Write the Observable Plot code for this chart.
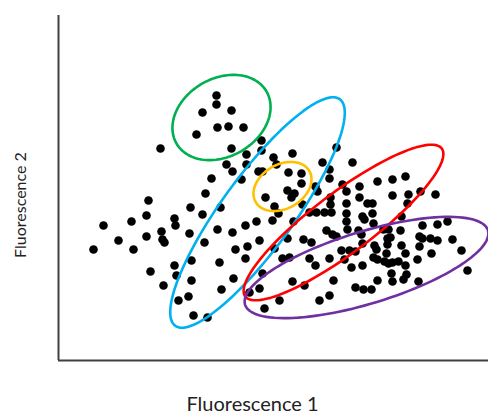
<!DOCTYPE html>
<html>
<head>
<meta charset="utf-8">
<script src="https://cdn.jsdelivr.net/npm/d3@7"></script>
<script src="https://cdn.jsdelivr.net/npm/@observablehq/plot@0.6"></script>
<style>
  html, body { margin: 0; padding: 0; background: #fff; }
  svg { display: block; }
</style>
</head>
<body>
<div id="chart"></div>
<script>
// Fluorescence readings (arbitrary units)
const fluor1 = [35,45,60,73,75,88,88,90,92,102,103,104,106,105,116,117,116,118,120,130,131,132,133,133,135,138,
  144,144,146,147,149,153,158,158,159,159,161,162,163,168,170,173,173,174,174,175,183,185,187,177,189,187,188,188,191,198,200,204,201,201,203,203,204,206,207,
  215,218,216,220,214,216,230,243,243,229,236,233,234,264,278,294,257,259,271,271,284,288,301,301,309,314,244,251,258,266,272,272,273,288,288,304,306,
  235,245,253,229,224,231,251,257,268,274,278,289,288,300,303,304,283,291,297,271,286,293,304,314,
  319,334,347,334,350,362,377,349,343,315,325,330,342,364,379,389,361,364,372,379,394,403,409,329,332,329,316,318,343,315,319,328,347,361,373,359,
  326,330,334,340,347,333,348,345,334,360,319,297,305,313,275,271,261,246,234,221];
const fluor2 = [111,135,120,139,111,145,124,160,89,212,129,121,118,75,142,135,95,85,60,64,127,153,100,80,45,226,
  248,146,118,167,43,182,265,256,233,131,98,153,71,196,234,250,212,189,128,82,181,233,135,111,114,102,206,196,68,139,189,189,120,72,220,210,87,52,163,
  203,196,154,147,140,112,188,187,177,170,167,163,207,198,213,198,174,169,191,182,176,169,174,163,157,157,156,148,148,148,163,156,148,157,147,144,141,
  139,121,118,122,102,103,102,95,130,126,124,131,139,130,126,117,110,110,109,102,101,93,95,147,
  179,181,184,165,166,169,166,157,144,137,131,131,130,135,136,139,124,122,122,120,121,110,90,122,123,116,115,111,115,103,101,107,107,114,107,101,
  99,97,98,99,95,87,86,81,79,79,80,73,71,71,80,65,60,75,79,60];

// Gating ellipses: centre, semi-axes, tilt (degrees)
const gateColors = ["#00b050", "#00b0f0", "#ffc000", "#ff0000", "#7030a0"];
const gateCx = [163, 199, 224, 285, 308];
const gateCy = [243, 148, 174, 138, 93];
const gateA = [52, 140, 31, 123, 127];
const gateB = [39, 36, 22, 30, 36];
const gateTilt = [30, 54, 30, 37, 17];

const cells = fluor1.map((x, i) => ({x, y: fluor2[i]}));

const gateMarks = gateColors.map((color, g) => {
  const th = gateTilt[g] * Math.PI / 180;
  const pts = d3.range(0, 360, 3).map(deg => {
    const t = deg * Math.PI / 180;
    const u = gateA[g] * Math.cos(t), v = gateB[g] * Math.sin(t);
    return {x: gateCx[g] + u * Math.cos(th) - v * Math.sin(th),
            y: gateCy[g] + u * Math.sin(th) + v * Math.cos(th)};
  });
  return Plot.line(pts, {x: "x", y: "y", stroke: color, strokeWidth: 2.6, curve: "linear-closed"});
});

const chart = Plot.plot({
  width: 488,
  height: 415,
  marginLeft: 58,
  marginRight: 0,
  marginTop: 15,
  marginBottom: 55,
  style: {fontFamily: "Lato, 'Open Sans', sans-serif", background: "#fff"},
  x: {domain: [0, 430], axis: null},
  y: {domain: [0, 345], axis: null},
  marks: [
    Plot.dot(cells, {x: "x", y: "y", r: 4.3, fill: "black", stroke: "none"}),
    ...gateMarks,
    Plot.ruleX([0], {stroke: "#404040", strokeWidth: 2}),
    Plot.ruleY([0], {stroke: "#404040", strokeWidth: 2}),
    Plot.text(["Fluorescence 1"], {frameAnchor: "bottom", textAnchor: "middle", lineAnchor: "middle", dx: -21, dy: 44, fontSize: 20, fill: "#222"}),
    Plot.text(["Fluorescence 2"], {frameAnchor: "left", textAnchor: "middle", lineAnchor: "middle", rotate: -90, dx: -38, dy: 17, fontSize: 16, fill: "#222"})
  ]
});
document.getElementById("chart").appendChild(chart);
</script>
</body>
</html>
